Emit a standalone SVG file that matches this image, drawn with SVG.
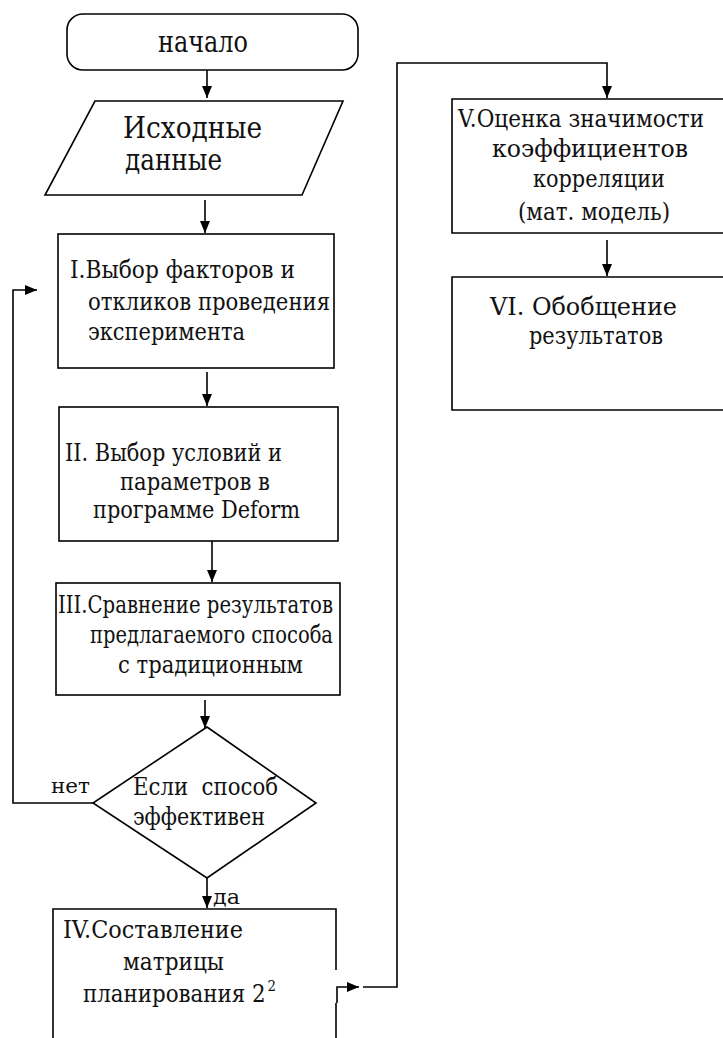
<svg xmlns="http://www.w3.org/2000/svg" width="723" height="1038" viewBox="0 0 723 1038">
<style>
.shape{fill:#fff;stroke:#000;stroke-width:1.6}
.open{fill:none;stroke:#000;stroke-width:1.6}
.conn{fill:none;stroke:#000;stroke-width:1.6}
text{font-family:"DejaVu Serif","FreeSerif","Noto Serif","Liberation Serif",serif;fill:#111;font-size:24px}
.big{font-size:29px}
.small{font-size:21px}
.sup{font-size:15px}
</style>
<defs>
<marker id="ah" viewBox="0 0 12 10" refX="12" refY="5" markerWidth="12" markerHeight="10" markerUnits="userSpaceOnUse" orient="auto">
<path d="M0,0 L12,5 L0,10 Z" fill="#000"/>
</marker>
</defs>
<rect width="723" height="1038" fill="#fff"/>

<g id="start">
<rect class="shape" x="67" y="14" width="291" height="56" rx="16" ry="16"/>
<text class="big" x="158" y="52" textLength="90" lengthAdjust="spacingAndGlyphs">начало</text>
</g>

<g id="input">
<polygon class="shape" points="95,101 343,101 302,195 45,195"/>
<text class="big" x="123" y="138" textLength="139" lengthAdjust="spacingAndGlyphs">Исходные</text>
<text class="big" x="125" y="170" textLength="97" lengthAdjust="spacingAndGlyphs">данные</text>
</g>

<g id="step1">
<rect class="shape" x="58" y="234" width="276" height="134"/>
<text x="70" y="278" textLength="225" lengthAdjust="spacingAndGlyphs">I.Выбор факторов и</text>
<text x="88" y="310" textLength="242" lengthAdjust="spacingAndGlyphs">откликов проведения</text>
<text x="88" y="340" textLength="157" lengthAdjust="spacingAndGlyphs">эксперимента</text>
</g>

<g id="step2">
<rect class="shape" x="59" y="407" width="279" height="134"/>
<text x="65" y="461" textLength="217" lengthAdjust="spacingAndGlyphs">II. Выбор условий и</text>
<text x="120" y="490" textLength="150" lengthAdjust="spacingAndGlyphs">параметров в</text>
<text x="93" y="518" textLength="207" lengthAdjust="spacingAndGlyphs">программе Deform</text>
</g>

<g id="step3">
<rect class="shape" x="56" y="583" width="284" height="112"/>
<text x="58" y="613" textLength="275" lengthAdjust="spacingAndGlyphs">III.Сравнение результатов</text>
<text x="90" y="643" textLength="243" lengthAdjust="spacingAndGlyphs">предлагаемого способа</text>
<text x="118" y="673" textLength="185" lengthAdjust="spacingAndGlyphs">с традиционным</text>
</g>

<g id="decision">
<polygon class="shape" points="207,727 316,803 207,878 93,803"/>
<text x="133" y="795" textLength="145" lengthAdjust="spacingAndGlyphs" xml:space="preserve">Если  способ</text>
<text x="133" y="825" textLength="132" lengthAdjust="spacingAndGlyphs">эффективен</text>
</g>

<g id="step4">
<path class="open" d="M336,970 V909 H53 V1045 M336,1003 V1045"/>
<text x="63" y="938" textLength="180" lengthAdjust="spacingAndGlyphs">IV.Составление</text>
<text x="123" y="970" textLength="101" lengthAdjust="spacingAndGlyphs">матрицы</text>
<text x="83" y="1002" textLength="193" lengthAdjust="spacingAndGlyphs">планирования 2<tspan class="sup" dx="2" dy="-11">2</tspan></text>
</g>

<g id="step5">
<path class="open" d="M723,99 H452 V233 H723"/>
<text x="458" y="127" textLength="246" lengthAdjust="spacingAndGlyphs">V.Оценка значимости</text>
<text x="492" y="157" textLength="196" lengthAdjust="spacingAndGlyphs">коэффициентов</text>
<text x="533" y="187" textLength="132" lengthAdjust="spacingAndGlyphs">корреляции</text>
<text x="518" y="220" textLength="152" lengthAdjust="spacingAndGlyphs">(мат. модель)</text>
</g>

<g id="step6">
<path class="open" d="M723,277 H452 V410 H723"/>
<text x="490" y="315" textLength="187" lengthAdjust="spacingAndGlyphs">VI. Обобщение</text>
<text x="529" y="344" textLength="134" lengthAdjust="spacingAndGlyphs">результатов</text>
</g>

<g id="connectors">
<path class="conn" d="M207,70 V98" marker-end="url(#ah)"/>
<path class="conn" d="M205,200 V233" marker-end="url(#ah)"/>
<path class="conn" d="M207,372 V406" marker-end="url(#ah)"/>
<path class="conn" d="M212,541 V582" marker-end="url(#ah)"/>
<path class="conn" d="M205,700 V728" marker-end="url(#ah)"/>
<path class="conn" d="M207,878 V908" marker-end="url(#ah)"/>
<path class="conn" d="M93,803 H13 V290 H37" marker-end="url(#ah)"/>
<path class="conn" d="M337,1003 V987 H359" marker-end="url(#ah)"/>
<path class="conn" d="M363,987 H397 V63 H607 V98" marker-end="url(#ah)"/>
<path class="conn" d="M607,240 V276" marker-end="url(#ah)"/>
<text class="small" x="51" y="793" textLength="39" lengthAdjust="spacingAndGlyphs">нет</text>
<text class="small" x="213" y="904" textLength="27" lengthAdjust="spacingAndGlyphs">да</text>
</g>
</svg>
